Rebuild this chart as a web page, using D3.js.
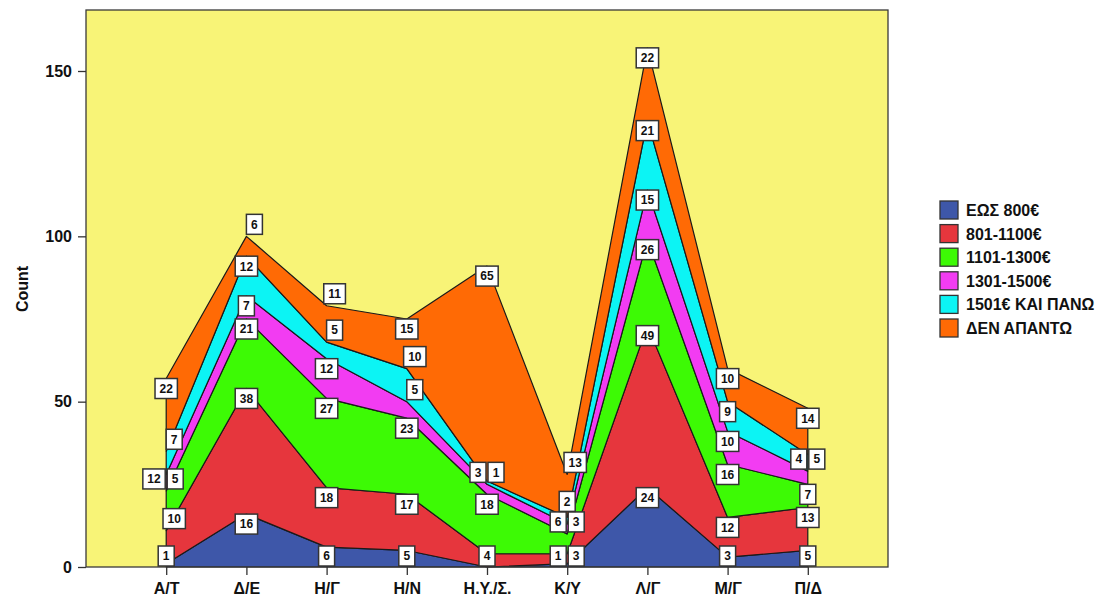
<!DOCTYPE html>
<html><head><meta charset="utf-8">
<script src="https://cdn.jsdelivr.net/npm/d3@7"></script>
<style>
body{margin:0;background:#fff;}
text{font-family:"Liberation Sans",Arial,sans-serif;font-weight:bold;fill:#111;}
</style>
</head><body>
<svg id="c" width="1102" height="604"></svg>
<script>
const categories = ["Α/Τ","Δ/Ε","Η/Γ","Η/Ν","Η.Υ./Σ.","Κ/Υ","Λ/Γ","Μ/Γ","Π/Δ"];
const seriesNames = ["ΕΩΣ 800€","801-1100€","1101-1300€","1301-1500€","1501€ ΚΑΙ ΠΑΝΩ","ΔΕΝ ΑΠΑΝΤΩ"];
const upTo800   = [1,16,6,5,0,1,24,3,5];
const from801   = [10,38,18,17,4,3,49,12,13];
const from1101  = [12,21,27,23,18,6,26,16,7];
const from1301  = [5,7,12,5,3,3,15,10,4];
const from1501  = [7,12,5,10,1,2,21,9,5];
const noAnswer  = [22,6,11,15,65,13,22,10,14];
const yTicks = [0,50,100,150];
const yTitle = "Count";

const seriesValues = [upTo800, from801, from1101, from1301, from1501, noAnswer];
const colors = ["#3e57a9","#e6363d","#3dfa05","#f23cf2","#0cf4f4","#ff6a05"];

const svg = d3.select("#c");
const plot = {left:86, right:888, top:10, bottom:567};
const x = d3.scalePoint().domain(categories).range([plot.left, plot.right]).padding(1);
const y = d3.scaleLinear().domain([0,150]).range([plot.bottom, 71]);

// background
svg.append("rect").attr("x",plot.left).attr("y",plot.top)
  .attr("width",plot.right-plot.left).attr("height",plot.bottom-plot.top)
  .attr("fill","#f8f477");

const keys = seriesNames.map((d,i)=>"k"+i);
const table = categories.map((c,i)=>{
  const row = {cat:c};
  seriesValues.forEach((arr,s)=>row["k"+s]=arr[i]);
  return row;
});
const stacked = d3.stack().keys(keys)(table);

const area = d3.area()
  .x(d=>x(d.data.cat))
  .y0(d=>y(d[0]))
  .y1(d=>y(d[1]));

svg.append("g").selectAll("path").data(stacked).join("path")
  .attr("d",area)
  .attr("fill",(d,i)=>colors[i])
  .attr("stroke","#1a1a1a").attr("stroke-width",1.2).attr("stroke-linejoin","round");

// frame
svg.append("rect").attr("x",plot.left).attr("y",plot.top)
  .attr("width",plot.right-plot.left).attr("height",plot.bottom-plot.top)
  .attr("fill","none").attr("stroke","#3a3a3a").attr("stroke-width",1.3);

// axes
const fontCss = "'Liberation Sans',Arial,sans-serif";
const yAxis = svg.append("g").attr("transform",`translate(${plot.left},0)`)
  .call(d3.axisLeft(y).tickValues(yTicks).tickSize(8).tickPadding(6).tickFormat(d3.format("d")));
yAxis.select(".domain").remove();
yAxis.selectAll("line").attr("stroke","#333").attr("stroke-width",1.3);
yAxis.selectAll("text").style("font-size","16px").style("font-family",fontCss).style("font-weight","bold").attr("fill","#111");

const xAxis = svg.append("g").attr("transform",`translate(0,${plot.bottom})`)
  .call(d3.axisBottom(x).tickSize(8).tickPadding(8));
xAxis.select(".domain").remove();
xAxis.selectAll("line").attr("stroke","#333").attr("stroke-width",1.3);
xAxis.selectAll("text").style("font-size","16px").style("font-family",fontCss).style("font-weight","bold").attr("fill","#111");

svg.append("text").attr("transform","translate(28,289) rotate(-90)")
  .attr("text-anchor","middle").style("font-size","16px").text(yTitle);

// value labels
const lblG = svg.append("g");
const measure = svg.append("text").style("font-size","12px").attr("visibility","hidden");
function textW(t){ measure.text(t); return measure.node().getComputedTextLength(); }
const H = 20, maxY = plot.bottom - H/2 - 1;
const allLabels = [];
categories.forEach((c,i)=>{
  const cx = x(c);
  const placed = [];
  const hit = (a,b)=>Math.abs(a.x-b.x)<(a.w+b.w)/2 && Math.abs(a.y-b.y)<H+0.5;
  const overlaps = (cand, skip)=>placed.some(p=>p!==skip && hit(p,cand));
  stacked.forEach((layer,s)=>{
    const v = seriesValues[s][i];
    if(v<=0) return;
    const top = y(layer[i][1]);
    const w = Math.max(16, textW(String(v))+9);
    let lab = null;
    const cands = [{x:cx,y:Math.min(top+10,maxY)},{x:cx+8,y:Math.min(top-12,maxY)}];
    for(const cd of cands){ const c2={...cd,w}; if(!overlaps(c2)){lab=c2;break;} }
    if(!lab && placed.length){
      const prev = placed[placed.length-1];
      const oldX = prev.x;
      prev.x = cx - prev.w/2 - 1;
      const c2 = {x:cx + w/2 + 1, y:prev.y, w};
      if(!overlaps(c2) && !overlaps(prev, prev)) lab = c2; else prev.x = oldX;
    }
    if(!lab){
      let yy = Math.min(top+10,maxY);
      while(overlaps({x:cx,y:yy,w})) yy -= 1;
      lab = {x:cx, y:yy, w};
    }
    lab.v = v;
    placed.push(lab);
  });
  allLabels.push(...placed);
});
measure.remove();

const lg = lblG.selectAll("g").data(allLabels).join("g")
  .attr("transform",d=>`translate(${d.x},${d.y})`);
lg.append("rect").attr("x",d=>-d.w/2).attr("y",-H/2).attr("width",d=>d.w).attr("height",H)
  .attr("fill","#fff").attr("stroke","#333").attr("stroke-width",1.5);
lg.append("text").attr("text-anchor","middle").attr("dy","0.36em")
  .style("font-size","12px").text(d=>d.v);

// legend
const legend = svg.append("g").attr("transform","translate(940,210)");
const li = legend.selectAll("g").data(seriesNames).join("g")
  .attr("transform",(d,i)=>`translate(0,${i*23.6})`);
li.append("rect").attr("x",0).attr("y",-9).attr("width",18).attr("height",18)
  .attr("fill",(d,i)=>colors[i]).attr("stroke","#333").attr("stroke-width",1.3);
li.append("text").attr("x",26).attr("y",6).style("font-size","16px").text(d=>d);
</script>
</body></html>
